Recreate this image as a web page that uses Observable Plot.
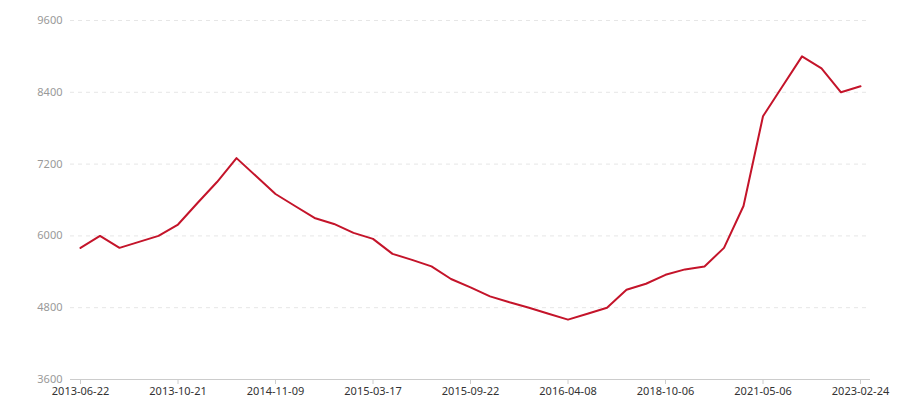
<!DOCTYPE html>
<html>
<head>
<meta charset="utf-8">
<script src="https://cdn.jsdelivr.net/npm/d3@7"></script>
<script src="https://cdn.jsdelivr.net/npm/@observablehq/plot@0.6"></script>
<style>
  html, body { margin: 0; padding: 0; background: #fff; }
  #chart svg { display: block; }
</style>
</head>
<body>
<div id="chart"></div>
<script>
const values = [
  5800, 6000, 5800, 5900, 6000, 6190, 6550, 6900, 7300, 7000,
  6700, 6500, 6300, 6200, 6050, 5950, 5700, 5600, 5490, 5280,
  5140, 4990, 4890, 4800, 4700, 4600, 4700, 4800, 5100, 5200,
  5350, 5440, 5490, 5800, 6500, 8000, 8500, 9000, 8800, 8400,
  8500
];
const tickLabels = [
  "2013-06-22", "2013-10-21", "2014-11-09", "2015-03-17", "2015-09-22",
  "2016-04-08", "2018-10-06", "2021-05-06", "2023-02-24"
];
const tickIndexes = tickLabels.map((_, i) => i * 5);
const yTicks = [3600, 4800, 6000, 7200, 8400, 9600];
const gridTicks = yTicks.slice(1);

const data = values.map((v, i) => ({ i, v }));

const chart = Plot.plot({
  width: 900,
  height: 400,
  marginLeft: 70,
  marginRight: 30,
  marginTop: 20,
  marginBottom: 21,
  style: { fontFamily: "'Noto Sans', sans-serif", fontSize: "11px", background: "#fff" },
  x: { domain: [0, values.length - 1], inset: 10 },
  y: { domain: [3600, 9600] },
  marks: [
    Plot.ruleY(gridTicks, { stroke: "#e6e6e6", strokeDasharray: "4,4", strokeWidth: 1 }),
    Plot.ruleY([3600], { stroke: "#cccccc", strokeWidth: 1 }),
    Plot.axisY({
      ticks: yTicks, tickSize: 0, tickPadding: 8, label: null,
      tickFormat: d => String(d), fill: "#999", fontSize: 11
    }),
    Plot.axisX({
      ticks: tickIndexes, tickSize: 5, tickPadding: 3, label: null,
      tickFormat: d => tickLabels[d / 5], stroke: "#ccc", fill: "#333", fontSize: 11
    }),
    Plot.line(data, { x: "i", y: "v", stroke: "#c4142a", strokeWidth: 2, strokeLinejoin: "round" })
  ]
});
document.getElementById("chart").appendChild(chart);
</script>
</body>
</html>
